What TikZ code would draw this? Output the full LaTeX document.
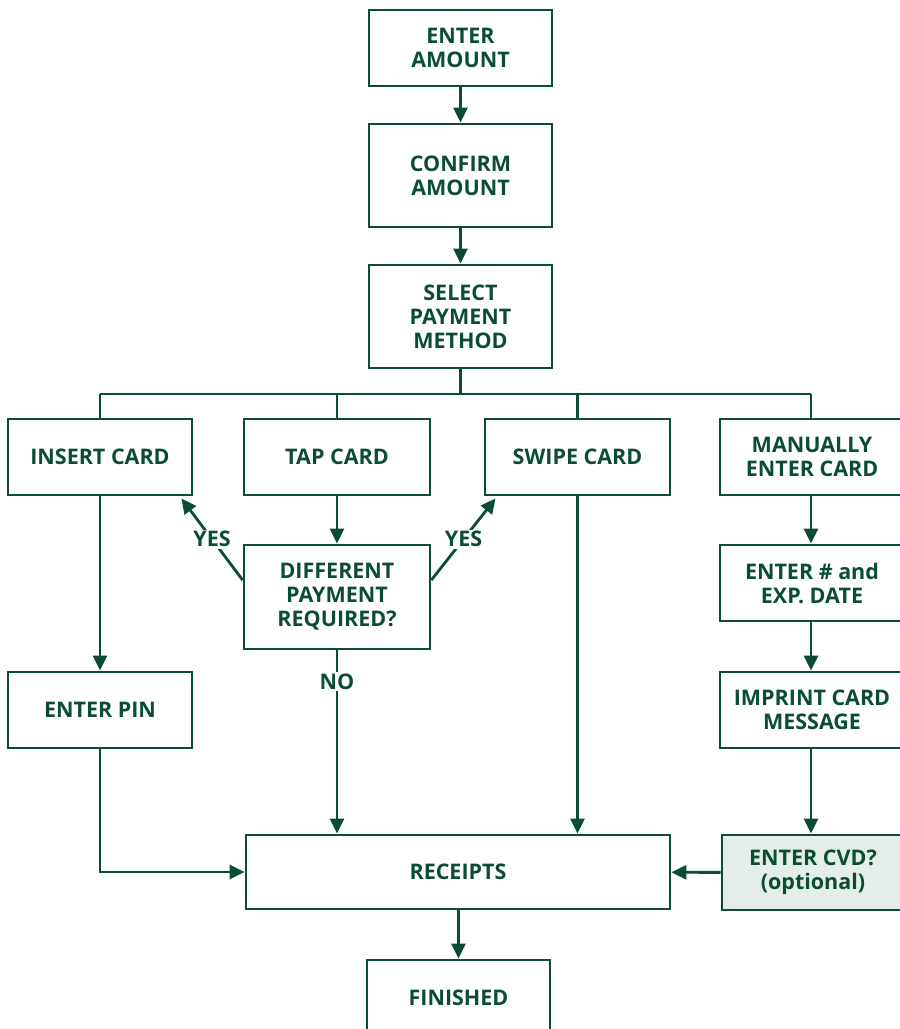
\documentclass[tikz,border=0pt]{standalone}
\usepackage{fontspec}
\setmainfont{Open Sans}
\usetikzlibrary{arrows.meta}
\definecolor{dg}{HTML}{0B4D33}
\definecolor{lg}{HTML}{E5EDE8}
\begin{document}
\begin{tikzpicture}[x=1pt,y=-1pt,
  box/.style={draw=dg, line width=2.8pt, text=dg, font=\bfseries\fontsize{21.5}{24}\selectfont, align=center, inner sep=0pt},
  conn/.style={draw=dg, line width=2.8pt},
  arr/.style={conn, -{Triangle[length=15pt,width=14pt]}},
  lab/.style={text=dg, font=\bfseries\fontsize{21.5}{22}\selectfont, fill=white, inner sep=1.5pt}]
\useasboundingbox (0,0) rectangle (900,1029);
\node[box, minimum width=183, minimum height=76] (amount) at (460.5,48) {ENTER\\AMOUNT};
\node[box, minimum width=183, minimum height=103] (confirm) at (460.5,175.5) {CONFIRM\\AMOUNT};
\node[box, minimum width=183, minimum height=103] (select) at (460.5,316.5) {SELECT\\PAYMENT\\METHOD};
\node[box, minimum width=184, minimum height=76] (insert) at (100,457) {INSERT CARD};
\node[box, minimum width=186, minimum height=76] (tap) at (337,457) {TAP CARD};
\node[box, minimum width=185, minimum height=76] (swipe) at (577.5,457) {SWIPE CARD};
\node[box, minimum width=184, minimum height=76] (manual) at (812,457) {MANUALLY\\ENTER CARD};
\node[box, minimum width=186, minimum height=104] (diff) at (337,597) {DIFFERENT\\PAYMENT\\REQUIRED?};
\node[box, minimum width=184, minimum height=76] (exp) at (812,583) {ENTER \# and\\EXP. DATE};
\node[box, minimum width=184, minimum height=76] (pin) at (100,710) {ENTER PIN};
\node[box, minimum width=184, minimum height=76] (imprint) at (812,710) {IMPRINT CARD\\MESSAGE};
\node[box, minimum width=424, minimum height=74] (receipts) at (458,872) {RECEIPTS};
\node[box, fill=lg, minimum width=182, minimum height=75] (cvd) at (813,872.5) {ENTER CVD?\\(optional)};
\node[box, minimum width=183, minimum height=76] (finished) at (458.5,998) {FINISHED};

\draw[arr] (amount) -- (confirm);
\draw[arr] (confirm) -- (select);
\coordinate (busL) at (100,394);
\coordinate (busR) at (811,394);
\draw[conn] (select.south) -- (select.south |- busL);
\draw[conn] (busL) -- (busR);
\draw[conn] (insert.north) -- (insert.north |- busL);
\draw[conn] (tap.north) -- (tap.north |- busL);
\draw[conn] (swipe.north) -- (swipe.north |- busL);
\draw[conn] (busR) -- (busR |- manual.north);

\draw[arr] (insert) -- (pin);
\draw[arr] (tap) -- (diff);
\draw[arr] ([yshift=17pt]diff.west) -- node[lab] {YES} ([xshift=-12pt,yshift=-2pt]insert.south east);
\draw[arr] ([yshift=17pt]diff.east) -- node[lab] {YES} ([xshift=12pt,yshift=-2pt]swipe.south west);
\draw[arr] (diff) -- node[lab, pos=0.17] {NO} (diff.south |- receipts.north);
\draw[arr] (swipe.south) -- (swipe.south |- receipts.north);
\draw[arr] (pin.south) |- (receipts.west);
\draw[arr] (manual.south -| busR) -- (busR |- exp.north);
\draw[arr] (exp.south -| busR) -- (busR |- imprint.north);
\draw[arr] (imprint.south -| busR) -- (busR |- cvd.north);
\draw[arr] (cvd) -- (receipts);
\draw[arr] (receipts.south -| finished) -- (finished);
\end{tikzpicture}
\end{document}
